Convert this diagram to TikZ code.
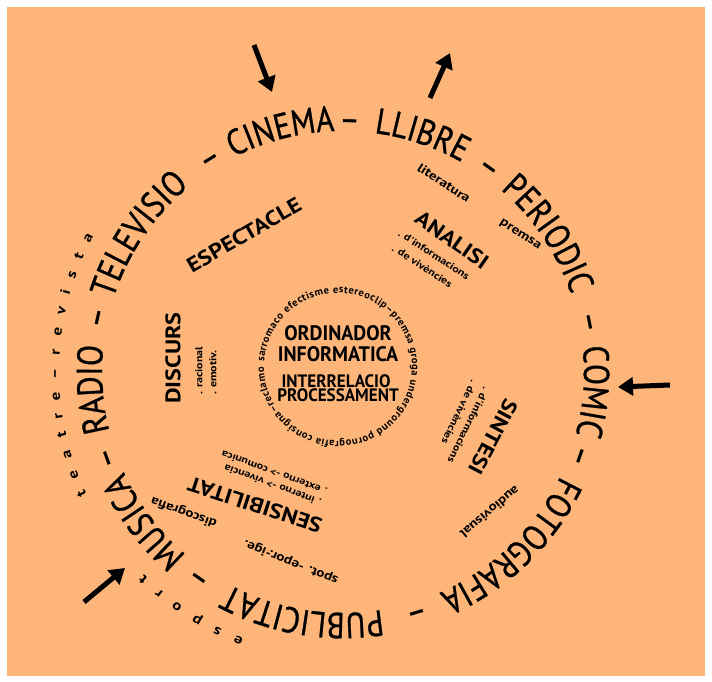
\documentclass[tikz,border=0pt]{standalone}
\usepackage{fontspec}
\setmainfont{PT Sans}
\newfontfamily\outerfont[FakeStretch=0.85,FakeBold=0.8]{PT Sans}
\newfontfamily\midfont[FakeStretch=1.15]{PT Sans}
\newfontfamily\corefont[FakeStretch=0.95]{PT Sans}
\newfontfamily\smallfont[FakeStretch=1.2]{PT Sans}
\usetikzlibrary{decorations.text,arrows.meta}
\definecolor{paper}{RGB}{253,181,122}
% fonts for the text that runs round the rings
\newcommand{\bigring}{\outerfont\fontsize{36}{36}\selectfont}
\newcommand{\thinring}{\smallfont\bfseries\fontsize{14}{14}\selectfont}
\newcommand{\tinyring}{\bfseries\fontsize{10.5}{10.5}\selectfont}

\begin{document}
\begin{tikzpicture}[x=1pt,y=1pt,
  ringword/.style={decorate,decoration={text along path,text align=center,text={#1}}},
  ringfit/.style={decorate,decoration={text along path,text align=fit to path,text={#1}}},
  midword/.style={font=\midfont\bfseries\fontsize{21}{21}\selectfont,inner sep=0pt},
  subitem/.style={font=\smallfont\bfseries\fontsize{10}{10}\selectfont,inner sep=0pt,anchor=west},
  smallnote/.style={font=\smallfont\bfseries\fontsize{12.5}{12.5}\selectfont,inner sep=0pt},
  coretext/.style={font=\corefont\bfseries\fontsize{21}{21}\selectfont,inner sep=0pt},
  bigarrow/.style={line width=5pt,-{Triangle[length=15pt,width=18pt]}}]
\useasboundingbox (0,0) rectangle (712,682);
\fill[paper] (7,6) rectangle (705,675);
\coordinate (O) at (343,310);
\coordinate (Oc) at (338,315);
% outer ring
\path[ringword={|\bigring|CINEMA}] (O) ++(144.5:241) arc[start angle=144.5,end angle=64.5,radius=241];
\path[ringword={|\bigring|–}] (O) ++(128.5:241) arc[start angle=128.5,end angle=48.5,radius=241];
\path[ringword={|\bigring|LLIBRE}] (O) ++(111.5:241) arc[start angle=111.5,end angle=31.5,radius=241];
\path[ringword={|\bigring|–}] (O) ++(94.5:241) arc[start angle=94.5,end angle=14.5,radius=241];
\path[ringword={|\bigring|PERIODIC}] (O) ++(74:241) arc[start angle=74,end angle=-6,radius=241];
\path[ringword={|\bigring|–}] (O) ++(51.5:241) arc[start angle=51.5,end angle=-28.5,radius=241];
\path[ringword={|\bigring|COMIC}] (O) ++(35.5:241) arc[start angle=35.5,end angle=-44.5,radius=241];
\path[ringword={|\bigring|–}] (O) ++(20.5:241) arc[start angle=20.5,end angle=-59.5,radius=241];
\path[ringword={|\bigring|FOTOGRAFIA}] (O) ++(-6:241) arc[start angle=-6,end angle=-86,radius=241];
\path[ringword={|\bigring|–}] (O) ++(-33:241) arc[start angle=-33,end angle=-113,radius=241];
\path[ringword={|\bigring|PUBLICITAT}] (O) ++(-59.5:241) arc[start angle=-59.5,end angle=-139.5,radius=241];
\path[ringword={|\bigring|–}] (O) ++(-85:241) arc[start angle=-85,end angle=-165,radius=241];
\path[ringword={|\bigring|MUSICA}] (O) ++(-103:241) arc[start angle=-103,end angle=-183,radius=241];
\path[ringword={|\bigring|–}] (O) ++(-120:241) arc[start angle=-120,end angle=-200,radius=241];
\path[ringword={|\bigring|RADIO}] (O) ++(-136:241) arc[start angle=-136,end angle=-216,radius=241];
\path[ringword={|\bigring|–}] (O) ++(-152.5:241) arc[start angle=-152.5,end angle=-232.5,radius=241];
\path[ringword={|\bigring|TELEVISIO}] (O) ++(-174:241) arc[start angle=-174,end angle=-254,radius=241];
\path[ringword={|\bigring|–}] (O) ++(-198:241) arc[start angle=-198,end angle=-278,radius=241];
\path[ringfit={|\thinring|teatre–revista}] (O) ++(205.5:284) arc[start angle=205.5,end angle=151.5,radius=284];
\path[ringfit={|\thinring|esport}] (O) ++(249.5:284) arc[start angle=249.5,end angle=225.5,radius=284];
% middle ring
\node[midword,rotate=30] (espectacle) at (244,447) {ESPECTACLE};
\node[midword,rotate=-35] (analisi) at (452,442) {ANALISI};
\node[subitem,rotate=-33] (ainfo) at (399,450) {. d'informacions};
\node[subitem,rotate=-33] (aviv) at (393,435) {. de vivències};
\node[smallnote,rotate=-33] (literatura) at (444,499) {literatura};
\node[smallnote,rotate=-33] (premsa) at (520,447) {premsa};
\node[midword,rotate=90] (discurs) at (173,324) {DISCURS};
\node[subitem,rotate=90] (racional) at (199,287) {. racional};
\node[subitem,rotate=90] (emotiv) at (213,287) {. emotiv.};
\node[midword,rotate=-118] (sintesi) at (493,245) {SINTESI};
\node[subitem,rotate=-116] (sinfo) at (487,294) {. d'informacions};
\node[subitem,rotate=-116] (sviv) at (475,301) {. de vivències};
\node[smallnote,rotate=-140] (audiovisual) at (490,170) {audiovisual};
\node[midword,rotate=162] (sensibilitat) at (255,177) {SENSIBILITAT};
\node[subitem,rotate=160] (interno) at (321,179) {. interno -> vivencia};
\node[subitem,rotate=160] (externo) at (327,190) {. externo -> comunica};
\node[smallnote,rotate=160] (discografia) at (184,170) {discografia};
\node[smallnote,rotate=158] (spot) at (291,120) {spot. -epor.-ige.};
% core
\path[ringfit={|\tinyring|sarromaco efectisme estereoclip–premsa groga underground pornografia consigna–reclamo}] (Oc) ++(176:74) arc[start angle=176,end angle=-180,radius=74];
\node[coretext] (ordinador) at (338,349) {ORDINADOR};
\node[coretext] (informatica) at (338,328) {INFORMATICA};
\node[coretext,font=\corefont\bfseries\fontsize{18}{18}\selectfont] (interrelacio) at (336,301) {INTERRELACIO};
\node[coretext,font=\corefont\bfseries\fontsize{18}{18}\selectfont] (processament) at (338,287) {PROCESSAMENT};
% arrows
\coordinate (a1) at (254,637);
\coordinate (b1) at (272,590);
\coordinate (a2) at (430,584);
\coordinate (b2) at (450,629);
\coordinate (a3) at (670,297);
\coordinate (b3) at (618,295);
\coordinate (a4) at (84,80);
\coordinate (b4) at (125,114);
\draw[bigarrow] (a1) -- (b1);
\draw[bigarrow] (a2) -- (b2);
\draw[bigarrow] (a3) -- (b3);
\draw[bigarrow] (a4) -- (b4);
\end{tikzpicture}
\end{document}
